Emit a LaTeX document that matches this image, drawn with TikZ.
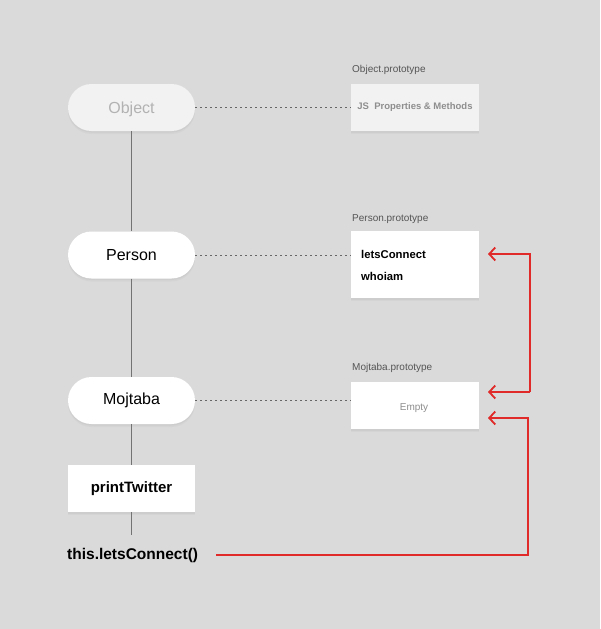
\documentclass[tikz,border=0pt]{standalone}
\usepackage{fontspec}
\setmainfont{Liberation Sans}
\usetikzlibrary{shadows,arrows.meta}
\definecolor{bg}{HTML}{DADADA}
\definecolor{pale}{HTML}{F2F2F2}
\definecolor{txtgray}{HTML}{8E8E8E}
\definecolor{lbl}{HTML}{555555}
\definecolor{redline}{HTML}{E02A2A}
\begin{document}
\begin{tikzpicture}[x=1pt,y=-1pt,
  soft/.style={drop shadow={shadow xshift=0pt,shadow yshift=-3pt,opacity=0.06},
               drop shadow={shadow xshift=0pt,shadow yshift=-1.5pt,opacity=0.08}},
  pill/.style={draw=none,fill=white,rounded corners=23.5pt,minimum width=127pt,minimum height=47pt,inner sep=0pt,soft},
  card/.style={draw=none,fill=white,minimum width=128pt,inner sep=0pt,soft},
  vline/.style={draw=black!55,line width=0.9pt},
  dotline/.style={draw=black!60,line width=0.9pt,dash pattern=on 1.5pt off 3.5pt},
  protolabel/.style={anchor=south west,inner sep=0pt,font=\fontsize{10}{11}\selectfont,text=lbl},
  plain/.style={inner sep=0pt},
  redarrow/.style={draw=redline,line width=1.8pt,-{Straight Barb[length=6pt,width=13pt,line width=1.8pt]}},
]
\useasboundingbox (0,0) rectangle (600,629);
\fill[bg] (0,0) rectangle (600,629);

% left column
\node[pill,fill=pale] (obj) at (131.5,107.5) {};
\node[plain,font=\fontsize{16}{18}\selectfont,text=black!30] (objt) at (131.5,109) {Object};
\node[pill,font=\fontsize{16}{18}\selectfont] (per) at (131.5,255) {Person};
\node[pill,font=\fontsize{16}{18}\selectfont] (moj) at (131.5,400.5) {Mojtaba};
\node[card,minimum height=47pt,minimum width=127pt,font=\bfseries\fontsize{15}{17}\selectfont] (pt) at (131.5,488.5) {printTwitter};
\coordinate (ptend) at (131.5,535);
\node[anchor=west,inner sep=0pt,font=\bfseries\fontsize{15.5}{17}\selectfont] (call) at (67,555) {this.letsConnect()};

\draw[vline] (obj.south) -- (per.north);
\draw[vline] (per.south) -- (moj.north);
\draw[vline] (moj.south) -- (pt.north);
\draw[vline] (pt.south) -- (ptend);

% prototype cards
\node[card,fill=pale,minimum height=47pt,font=\bfseries\fontsize{9.5}{10}\selectfont,text=txtgray] (objp) at (415,107.5) {JS\ \ Properties \& Methods};
\node[protolabel] (objpl) at (352,75) {Object.prototype};

\node[card,minimum height=67pt] (perp) at (415,264.5) {};
\node[anchor=west,plain,font=\bfseries\fontsize{11.3}{12}\selectfont] (lc) at (361,254) {letsConnect};
\node[anchor=west,plain,font=\bfseries\fontsize{11.3}{12}\selectfont] (wh) at (361,276) {whoiam};
\node[protolabel] (perpl) at (352,224) {Person.prototype};

\node[card,minimum height=47pt] (mojp) at (415,405.5) {};
\node[plain,font=\fontsize{10}{12}\selectfont,text=txtgray] (emp) at (414,408) {Empty};
\node[protolabel] (mojpl) at (352,373) {Mojtaba.prototype};

% dotted links
\draw[dotline] (obj.east) -- (obj.east -| objp.west);
\draw[dotline] (per.east) -- (per.east -| perp.west);
\draw[dotline] (moj.east) -- (moj.east -| mojp.west);

% red arrows
\coordinate (a1) at (488,254);
\coordinate (a2) at (488,392);
\coordinate (a3) at (488,418);
\coordinate (cs) at (216,555);
\draw[redarrow] (530,392) -- (530,254) -- (a1);
\draw[redarrow] (530,392) -- (a2);
\draw[redarrow] (cs) -- (528,555) -- (528,418) -- (a3);
\end{tikzpicture}
\end{document}
